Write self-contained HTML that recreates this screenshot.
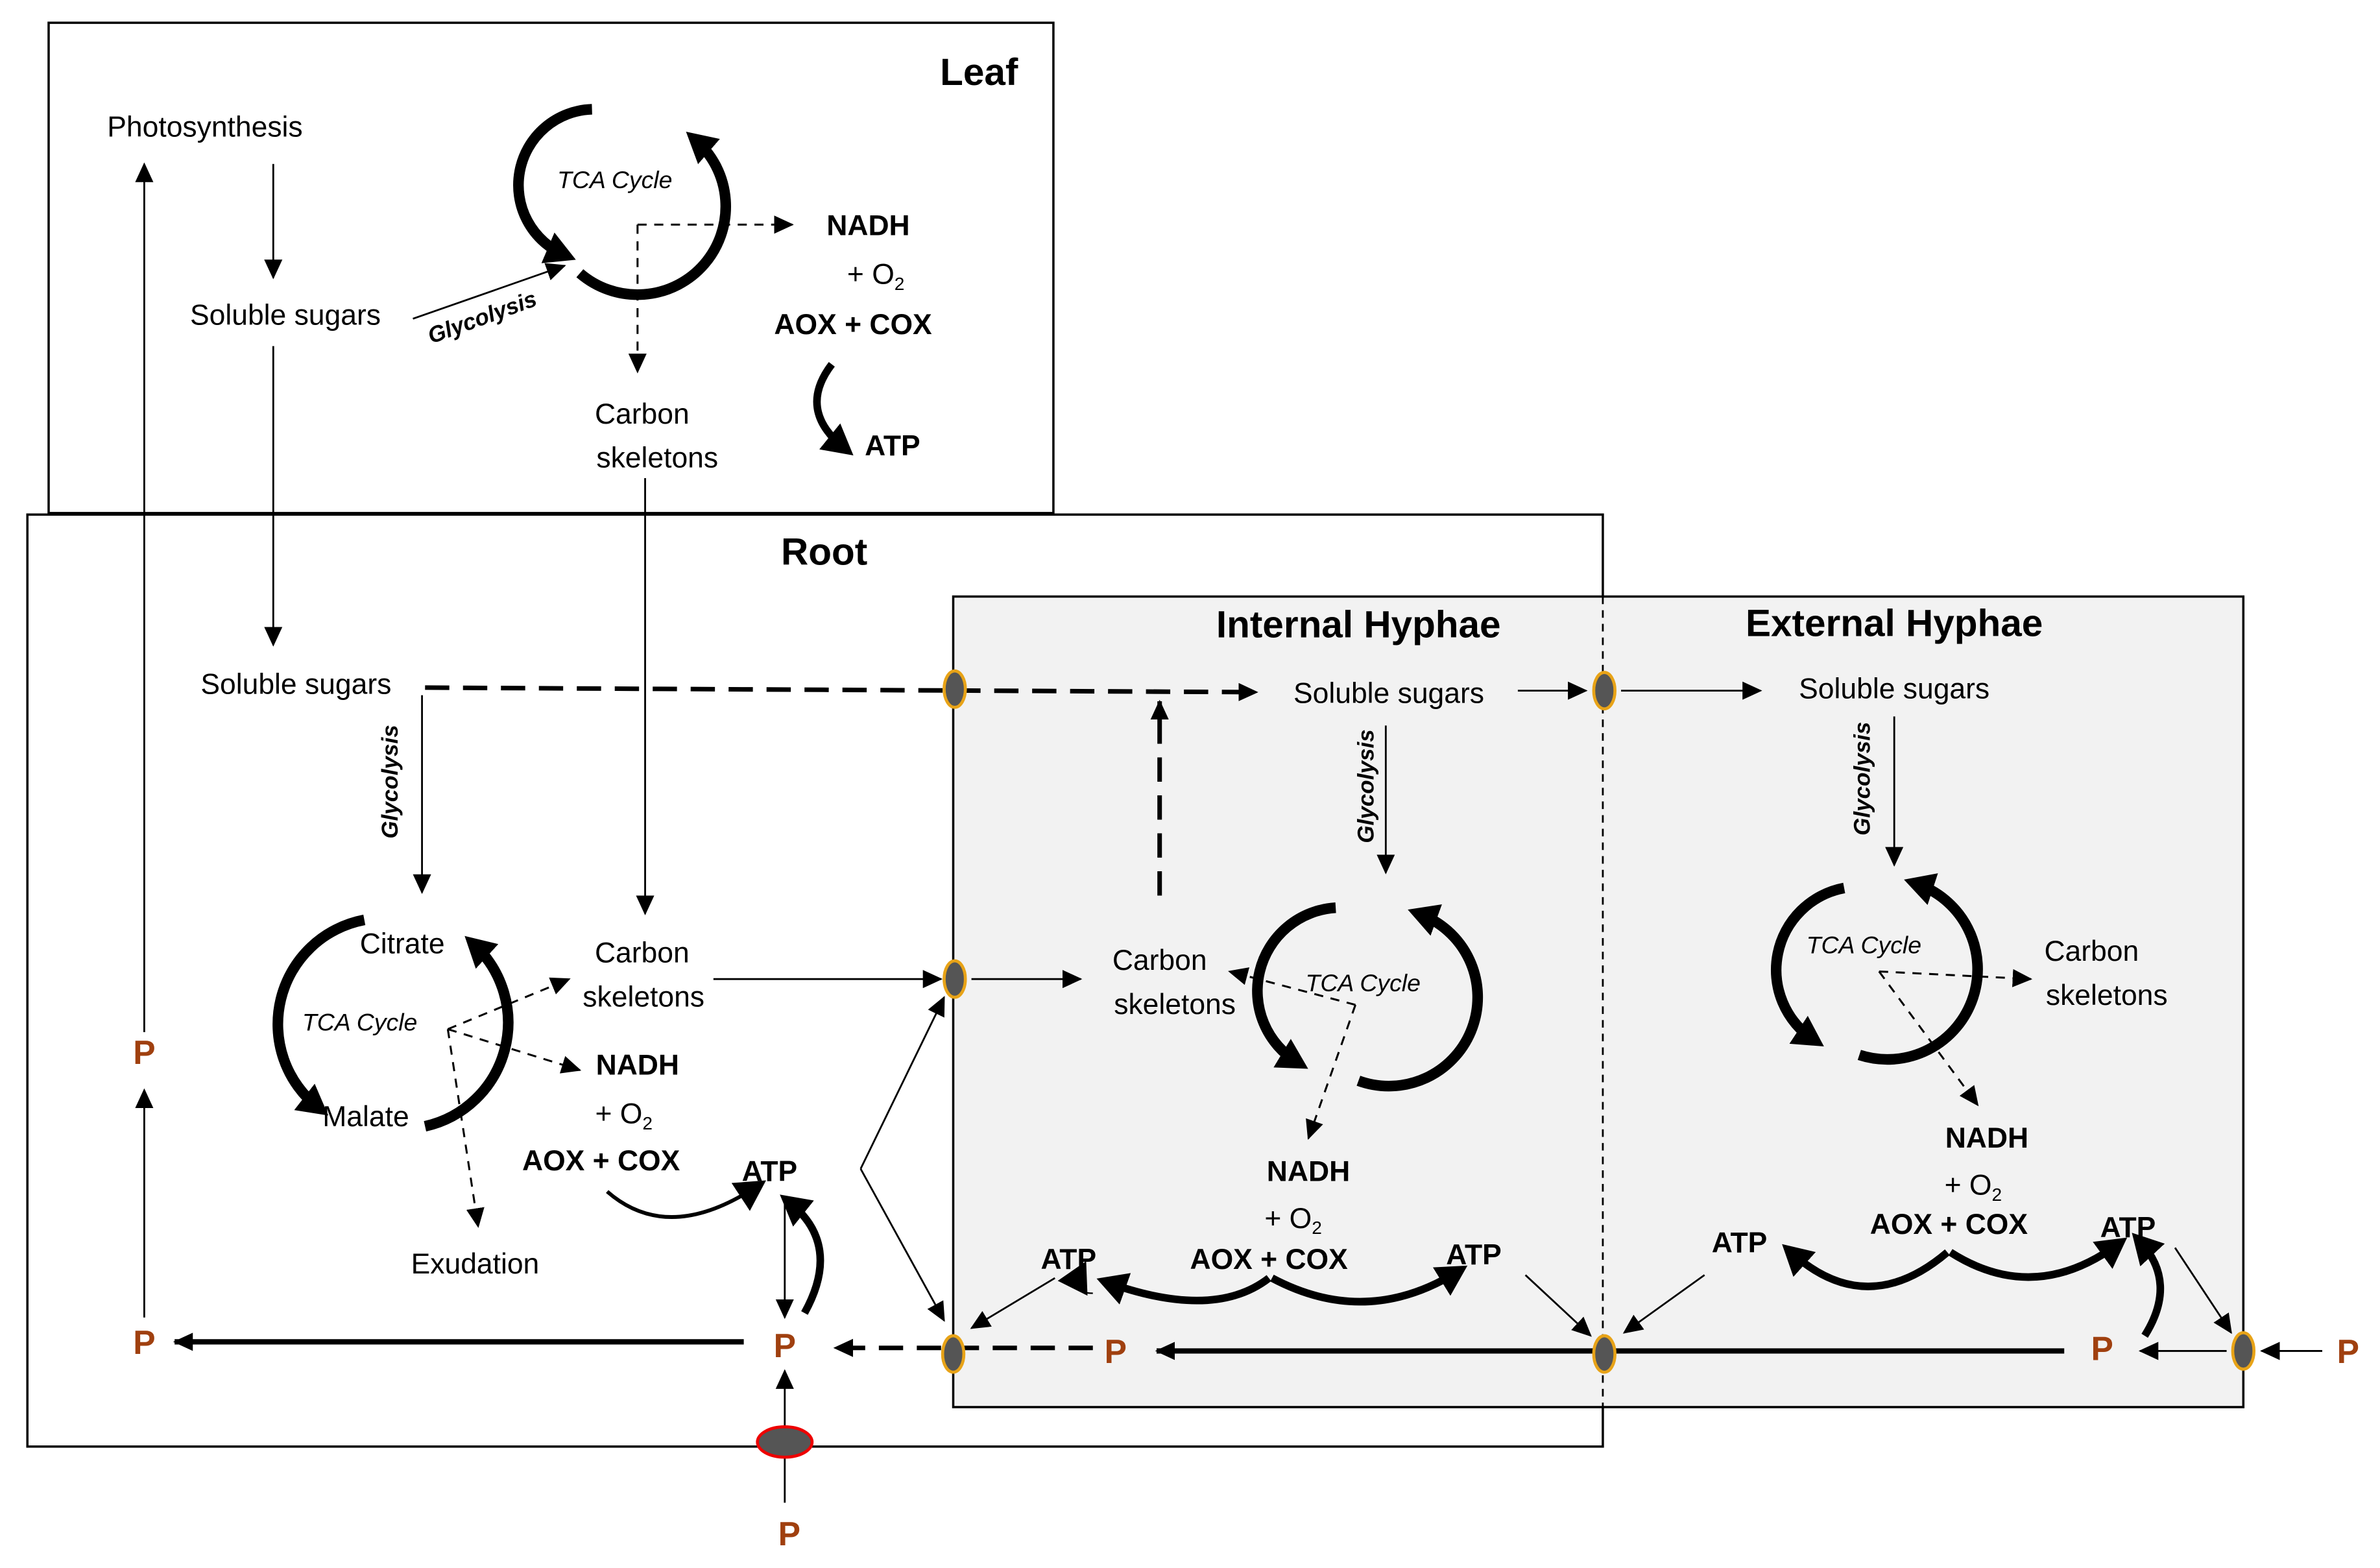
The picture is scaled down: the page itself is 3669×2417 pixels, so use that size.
<!DOCTYPE html>
<html><head><meta charset="utf-8"><style>
html,body{margin:0;padding:0;background:#fff}
svg{display:block}
text{font-family:"Liberation Sans",sans-serif;fill:#000}
.b{font-weight:bold}
.p{font-weight:bold;fill:#a0400f;font-size:22px}
.i{font-style:italic}
</style></head><body>
<svg width="3669" height="2417" viewBox="0 0 1568 1033" xmlns="http://www.w3.org/2000/svg">
<defs>
<marker id="a" markerUnits="userSpaceOnUse" markerWidth="14" markerHeight="12" refX="12" refY="6" orient="auto"><path d="M0,0 L13,6 L0,12 Z" fill="#000"/></marker>
<marker id="t" markerUnits="userSpaceOnUse" markerWidth="22" markerHeight="22" refX="12" refY="11" orient="auto"><path d="M0,0 L20,11 L0,22 Z" fill="#000"/></marker>
</defs>
<rect width="1568" height="1033" fill="#fff"/>
<!-- boxes -->
<rect x="32" y="15" width="662" height="323" fill="none" stroke="#000" stroke-width="1.5"/>
<rect x="18" y="339" width="1038" height="614" fill="none" stroke="#000" stroke-width="1.5"/>
<rect x="628" y="393" width="850" height="534" fill="#f2f2f2" stroke="#000" stroke-width="1.5"/>
<line x1="1056" y1="393" x2="1056" y2="953" stroke="#000" stroke-width="1.2" stroke-dasharray="5,4"/>
<text x="645" y="56" class="b" font-size="25" text-anchor="middle">Leaf</text>
<text x="543" y="372" class="b" font-size="25" text-anchor="middle">Root</text>
<text x="895" y="420" class="b" font-size="25" text-anchor="middle">Internal Hyphae</text>
<text x="1248" y="419" class="b" font-size="25" text-anchor="middle">External Hyphae</text>

<g font-size="19" text-anchor="middle">
<!-- leaf -->
<text x="135" y="90">Photosynthesis</text>
<text x="188" y="214">Soluble sugars</text>
<text x="405" y="124" class="i" font-size="16">TCA Cycle</text>
<text x="572" y="155" class="b">NADH</text>
<text x="577" y="187">+ O<tspan font-size="12" dy="4">2</tspan></text>
<text x="562" y="220" class="b">AOX + COX</text>
<text x="588" y="300" class="b">ATP</text>
<text x="423" y="279">Carbon</text>
<text x="433" y="308">skeletons</text>
<text x="318" y="214" class="i b" font-size="15" transform="rotate(-20 318 210)">Glycolysis</text>
<!-- root -->
<text x="195" y="457">Soluble sugars</text>
<text x="265" y="628">Citrate</text>
<text x="237" y="679" class="i" font-size="16">TCA Cycle</text>
<text x="241" y="742">Malate</text>
<text x="423" y="634">Carbon</text>
<text x="424" y="663">skeletons</text>
<text x="420" y="708" class="b">NADH</text>
<text x="411" y="740">+ O<tspan font-size="12" dy="4">2</tspan></text>
<text x="396" y="771" class="b">AOX + COX</text>
<text x="507" y="778" class="b">ATP</text>
<text x="313" y="839">Exudation</text>
<text x="262" y="515" class="i b" font-size="15" transform="rotate(-90 262 515)">Glycolysis</text>
<!-- internal -->
<text x="915" y="463">Soluble sugars</text>
<text x="764" y="639">Carbon</text>
<text x="774" y="668">skeletons</text>
<text x="898" y="653" class="i" font-size="16">TCA Cycle</text>
<text x="862" y="778" class="b">NADH</text>
<text x="852" y="809">+ O<tspan font-size="12" dy="4">2</tspan></text>
<text x="836" y="836" class="b">AOX + COX</text>
<text x="704" y="836" class="b">ATP</text>
<text x="971" y="833" class="b">ATP</text>
<text x="903" y="520" class="i b" font-size="15" transform="rotate(-90 903 518)">Glycolysis</text>
<!-- external -->
<text x="1248" y="460">Soluble sugars</text>
<text x="1228" y="628" class="i" font-size="16">TCA Cycle</text>
<text x="1378" y="633">Carbon</text>
<text x="1388" y="662">skeletons</text>
<text x="1309" y="756" class="b">NADH</text>
<text x="1300" y="787">+ O<tspan font-size="12" dy="4">2</tspan></text>
<text x="1284" y="813" class="b">AOX + COX</text>
<text x="1146" y="825" class="b">ATP</text>
<text x="1402" y="815" class="b">ATP</text>
<text x="1230" y="515" class="i b" font-size="15" transform="rotate(-90 1230 513)">Glycolysis</text>
</g>
<!-- P labels -->
<g text-anchor="middle">
<text x="95" y="701" class="p">P</text>
<text x="95" y="892" class="p">P</text>
<text x="517" y="894" class="p">P</text>
<text x="520" y="1018" class="p">P</text>
<text x="735" y="898" class="p">P</text>
<text x="1385" y="896" class="p">P</text>
<text x="1547" y="898" class="p">P</text>
</g>

<!-- thin arrows -->
<g stroke="#000" stroke-width="1.2" fill="none" marker-end="url(#a)">
<line x1="95" y1="680" x2="95" y2="108"/>
<line x1="95" y1="868" x2="95" y2="718"/>
<line x1="180" y1="108" x2="180" y2="183"/>
<line x1="180" y1="228" x2="180" y2="425"/>
<line x1="272" y1="210" x2="372" y2="175"/>
<line x1="425" y1="315" x2="425" y2="602"/>
<line x1="278" y1="458" x2="278" y2="588"/>
<line x1="470" y1="645" x2="620" y2="645"/>
<line x1="640" y1="645" x2="712" y2="645"/>
<line x1="567" y1="770" x2="622" y2="657"/>
<line x1="567" y1="770" x2="622" y2="870"/>
<line x1="517" y1="790" x2="517" y2="868"/>
<line x1="517" y1="990" x2="517" y2="903"/>
<line x1="1000" y1="455" x2="1045" y2="455" marker-end=""/>
<line x1="1068" y1="455" x2="1160" y2="455"/>
<line x1="913" y1="478" x2="913" y2="575"/>
<line x1="1248" y1="472" x2="1248" y2="570"/>
<line x1="695" y1="842" x2="640" y2="875"/>
<line x1="1005" y1="840" x2="1048" y2="880"/>
<line x1="1123" y1="840" x2="1070" y2="878"/>
<line x1="1433" y1="822" x2="1470" y2="878"/>
<line x1="1467" y1="890" x2="1410" y2="890"/>
<line x1="1530" y1="890" x2="1490" y2="890" marker-end=""/>
</g>
<!-- dashed arrows -->
<g stroke="#000" stroke-width="1.3" fill="none" stroke-dasharray="6,5" marker-end="url(#a)">
<polyline points="420,148 522,148"/>
<line x1="420" y1="148" x2="420" y2="245"/>
<line x1="295" y1="678" x2="375" y2="645"/>
<line x1="295" y1="678" x2="382" y2="705"/>
<line x1="295" y1="678" x2="315" y2="808"/>
<line x1="893" y1="662" x2="810" y2="640"/>
<line x1="893" y1="662" x2="862" y2="750"/>
<line x1="1238" y1="640" x2="1338" y2="645"/>
<line x1="1238" y1="640" x2="1303" y2="728"/>
</g>
<g stroke="#000" stroke-width="3" fill="none" stroke-dasharray="16,9" marker-end="url(#a)">
<line x1="280" y1="453" x2="828" y2="456"/>
<line x1="764" y1="590" x2="764" y2="462"/>
<line x1="720" y1="888" x2="550" y2="888"/>
</g>
<!-- thick solid arrows -->
<g stroke="#000" stroke-width="3.5" fill="none" marker-end="url(#a)">
<line x1="490" y1="884" x2="115" y2="884"/>
<line x1="1360" y1="890" x2="762" y2="890"/>
</g>
<!-- curved arrows -->
<g stroke="#000" fill="none" marker-end="url(#t)">
<path d="M548,240 Q525,270 556,295" stroke-width="5"/>
<path d="M400,785 Q440,820 498,782" stroke-width="2.5"/>
<path d="M530,865 Q555,820 520,792" stroke-width="5"/>
<path d="M836,842 Q800,870 730,845" stroke-width="5"/>
<path d="M720,852 Q705,852 712,838" stroke-width="1" marker-end=""/>
<path d="M838,842 Q900,875 960,838" stroke-width="5"/>
<path d="M1283,825 Q1230,870 1180,825" stroke-width="5"/>
<path d="M1285,825 Q1340,860 1395,820" stroke-width="5"/>
<path d="M1413,880 Q1435,845 1410,818" stroke-width="5"/>
</g>
<!-- TCA cycles -->
<g stroke="#000" fill="none" stroke-width="7" marker-end="url(#t)">
<path d="M390,72 A50,50 0 0 0 372,168"/>
<path d="M382,180 A50,50 0 0 0 458,92"/>
<path d="M240,606 A70,70 0 0 0 210,730"/>
<path d="M280,742 A70,70 0 0 0 312,622"/>
<path d="M880,598 A55,55 0 0 0 855,700"/>
<path d="M895,712 A55,55 0 0 0 935,602"/>
<path d="M1215,585 A55,55 0 0 0 1195,685"/>
<path d="M1225,695 A55,55 0 0 0 1262,582"/>
</g>
<!-- ovals -->
<g fill="#555" stroke="#e8a317" stroke-width="2">
<ellipse cx="629" cy="454" rx="7" ry="12"/>
<ellipse cx="629" cy="645" rx="7" ry="12"/>
<ellipse cx="628" cy="892" rx="7" ry="12"/>
<ellipse cx="1057" cy="455" rx="7" ry="12"/>
<ellipse cx="1057" cy="892" rx="7" ry="12"/>
<ellipse cx="1478" cy="890" rx="7" ry="12"/>
</g>
<ellipse cx="517" cy="950" rx="18" ry="10" fill="#555" stroke="#e00" stroke-width="2"/>
</svg>
</body></html>
